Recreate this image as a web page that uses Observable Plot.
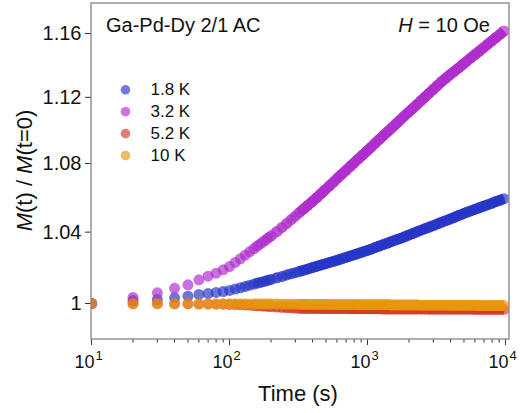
<!DOCTYPE html>
<html><head><meta charset="utf-8">
<script src="https://cdn.jsdelivr.net/npm/d3@7"></script>
<script src="https://cdn.jsdelivr.net/npm/@observablehq/plot@0.6"></script>
<style>
body{margin:0;background:#fff}
svg{font-family:"Liberation Sans",Arial,sans-serif}
</style>
</head><body><div id="chart"></div>
<script>
// Time (s)
const times = [10,20,30,40,50,60,70,80,90,100,110,120,130,140,150,160,170,180,190,200,220,240,260,280,300,320,345,370,400,430,460,490,530,570,610,650,700,750,800,860,920,990,1060,1140,1220,1310,1400,1500,1610,1730,1850,1980,2120,2270,2440,2610,2800,3000,3220,3450,3700,3960,4250,4550,4880,5230,5600,6000,6430,6890,7390,7920,8490,9100,9750];

// M(t)/M(t=0) for each temperature
const m18 = [1.0000,1.0016,1.0022,1.0031,1.0040,1.0050,1.0055,1.0061,1.0066,1.0072,
1.0080,1.0087,1.0094,1.0101,1.0107,1.0113,1.0118,1.0123,1.0128,1.0133,
1.0142,1.0150,1.0158,1.0165,1.0171,
1.0177,1.0185,1.0192,1.0200,1.0207,1.0214,1.0220,1.0228,1.0235,1.0242,1.0249,1.0257,1.0265,1.0271,1.0280,1.0287,1.0295,
1.0303,1.0313,1.0321,1.0330,1.0338,1.0347,1.0356,1.0364,1.0373,1.0383,
1.0392,1.0401,1.0411,1.0420,1.0429,1.0438,1.0448,1.0457,1.0466,1.0475,
1.0485,1.0495,1.0504,1.0514,1.0522,1.0531,1.0540,1.0549,1.0557,1.0566,
1.0576,1.0584,1.0593];

const m32 = [1.0000,1.0033,1.0059,1.0084,1.0103,1.0131,1.0151,1.0168,1.0187,1.0205,
1.0228,1.0249,1.0269,1.0288,1.0305,1.0322,1.0337,1.0351,1.0366,1.0378,
1.0403,1.0427,1.0450,1.0472,1.0492,
1.0512,1.0534,1.0555,1.0578,1.0600,1.0622,1.0643,1.0668,1.0692,1.0715,1.0736,1.0760,1.0783,1.0804,1.0828,1.0850,1.0874,
1.0897,1.0922,1.0945,1.0969,1.0991,1.1014,1.1038,1.1062,1.1086,1.1108,
1.1131,1.1154,1.1179,1.1202,1.1226,1.1250,1.1274,1.1298,1.1319,1.1340,
1.1361,1.1381,1.1403,1.1424,1.1445,1.1466,1.1487,1.1508,1.1530,1.1551,
1.1573,1.1594,1.1616];

const m52 = [1.0000,0.9999,0.9999,0.9998,0.9998,0.9997,0.9997,0.9996,0.9996,0.9995,
0.9994,0.9993,0.9992,0.9991,0.9989,0.9988,0.9987,0.9986,0.9985,0.9983,
0.9981,0.9979,0.9977,0.9976,0.9975,
0.9974,0.9974,0.9973,0.9973,0.9973,0.9973,0.9972,0.9972,0.9972,0.9972,0.9972,0.9972,0.9971,0.9971,0.9971,0.9971,0.9971,
0.9971,0.9971,0.9971,0.9970,0.9970,0.9970,0.9970,0.9970,0.9970,0.9970,
0.9970,0.9970,0.9970,0.9970,0.9969,0.9969,0.9969,0.9969,0.9969,0.9969,
0.9969,0.9969,0.9969,0.9969,0.9969,0.9968,0.9968,0.9968,0.9968,0.9968,
0.9968,0.9968,0.9968];

const m10 = [1.0000,0.9999,0.9999,0.9999,0.9999,0.9998,0.9998,0.9998,0.9998,0.9998,
0.9998,0.9998,0.9998,0.9997,0.9997,0.9997,0.9997,0.9997,0.9997,0.9997,
0.9997,0.9996,0.9996,0.9996,0.9996,
0.9996,0.9996,0.9995,0.9995,0.9995,0.9995,0.9995,0.9995,0.9994,0.9994,0.9994,0.9994,0.9994,0.9994,0.9993,0.9993,0.9993,
0.9993,0.9993,0.9993,0.9993,0.9993,0.9992,0.9992,0.9992,0.9992,0.9992,
0.9992,0.9992,0.9991,0.9991,0.9991,0.9991,0.9991,0.9991,0.9991,0.9990,
0.9990,0.9990,0.9990,0.9990,0.9990,0.9990,0.9989,0.9989,0.9989,0.9989,
0.9989,0.9989,0.9989];

const seriesLabels = ["1.8 K", "3.2 K", "5.2 K", "10 K"];
const seriesColors = ["#2635c7", "#ae2ccd", "#d5392a", "#e8960f"];

const xMajorTicks = [10, 100, 1000, 10000];
const xTickExponents = ["1", "2", "3", "4"];
const xMinorTicks = [20,30,40,50,60,70,80,90,200,300,400,500,600,700,800,900,2000,3000,4000,5000,6000,7000,8000,9000];
const yTicks = [1, 1.04, 1.08, 1.12, 1.16];

const sampleName = "Ga-Pd-Dy 2/1 AC";
const fieldLabel = " = 10 Oe";

// build table
const allSeries = [m18, m32, m52, m10];
const rows = [];
allSeries.forEach((vals, i) => vals.forEach((v, j) => rows.push({t: times[j], v, s: seriesLabels[i]})));

const fontFam = '"Liberation Sans", Arial, sans-serif';

// data marks: per series (so later series sit on top), a band that gets more
// solid where the measurements are densely packed, then the semi-transparent markers
const dataMarks = [];
seriesLabels.forEach((s, i) => {
  const sub = rows.filter(d => d.s === s);
  dataMarks.push(Plot.line(sub.filter(d => d.t >= 150), {x: "t", y: "v", stroke: "s", strokeWidth: 10.4, strokeOpacity: 0.45, strokeLinecap: "butt", strokeLinejoin: "round", clip: true}));
  dataMarks.push(Plot.line(sub.filter(d => d.t >= 320), {x: "t", y: "v", stroke: "s", strokeWidth: 10.4, strokeOpacity: 0.85, strokeLinecap: "butt", strokeLinejoin: "round", clip: true}));
  dataMarks.push(Plot.dot(sub, {x: "t", y: "v", fill: "s", r: 5.5, fillOpacity: 0.68, clip: true}));
});

const legendMarks = [];
seriesLabels.forEach((s, i) => {
  legendMarks.push(Plot.dot([s], {frameAnchor: "top-left", dx: 34, dy: 86.3 + 21.9 * i, r: 4.8, fill: d => d, fillOpacity: 0.65}));
  legendMarks.push(Plot.text([s], {frameAnchor: "top-left", dx: 59, dy: 86.3 + 21.9 * i, text: d => d, textAnchor: "start", lineAnchor: "middle", fontSize: 17, fill: "#111"}));
});

const plot = Plot.plot({
  width: 528,
  height: 413,
  marginLeft: 91,
  marginRight: 19,
  marginTop: 3,
  marginBottom: 74,
  style: {fontFamily: fontFam, fontSize: "17px", background: "#fff", overflow: "visible"},
  x: {type: "log", domain: [10, 10690], label: null},
  y: {type: "log", domain: [0.9804, 1.1793], label: null},
  color: {domain: seriesLabels, range: seriesColors},
  marks: [
    ...dataMarks,
    Plot.axisY({ticks: yTicks, tickSize: 6, tickPadding: 4, tickFormat: d => d === 1 ? "1" : d.toFixed(2), fontSize: 20, label: null, stroke: "#333", fill: "#111"}),
    Plot.axisX({ticks: xMajorTicks, tickSize: 6, tickFormat: () => "", label: null, stroke: "#333"}),
    Plot.axisX({ticks: xMinorTicks, tickSize: 3.5, tickFormat: () => "", label: null, stroke: "#333"}),
    Plot.text(xMajorTicks, {x: d => d, frameAnchor: "bottom", dy: 23, dx: 3, text: () => "10", textAnchor: "end", lineAnchor: "middle", fontSize: 18, fill: "#111"}),
    Plot.text(xMajorTicks, {x: d => d, frameAnchor: "bottom", dy: 16.5, dx: 4, text: (d, i) => xTickExponents[i], textAnchor: "start", lineAnchor: "middle", fontSize: 13, fill: "#111"}),
    ...legendMarks
  ]
});

document.getElementById("chart").appendChild(plot);

const svg = d3.select(plot);
// frame box from the plot's own scales
const xr = plot.scale("x").range, yr = plot.scale("y").range;
const x0 = Math.min(...xr), x1 = Math.max(...xr), y0 = Math.min(...yr), y1 = Math.max(...yr);
svg.append("rect").attr("x", x0).attr("y", y0).attr("width", x1 - x0).attr("height", y1 - y0)
  .attr("fill", "none").attr("stroke", "#8c8c8c").attr("stroke-width", 1.4);
// sample annotation
svg.append("text").attr("x", 106).attr("y", 31.5).attr("font-size", 20).attr("fill", "#111")
  .attr("font-family", fontFam).attr("text-anchor", "start").text(sampleName);
// field annotation
const ft = svg.append("text").attr("x", 490).attr("y", 31.5).attr("font-size", 20).attr("fill", "#111")
  .attr("font-family", fontFam).attr("text-anchor", "end");
ft.append("tspan").attr("font-style", "italic").text("H");
ft.append("tspan").text(fieldLabel);
// x title
svg.append("text").attr("x", 298).attr("y", 401).attr("font-size", 22).attr("fill", "#111")
  .attr("font-family", fontFam).attr("text-anchor", "middle").text("Time (s)");
// y title
const yt = svg.append("text").attr("transform", "translate(32,170.5) rotate(-90)").attr("font-size", 22).attr("fill", "#111")
  .attr("font-family", fontFam).attr("text-anchor", "middle");
yt.append("tspan").attr("font-style", "italic").text("M");
yt.append("tspan").text("(t) / ");
yt.append("tspan").attr("font-style", "italic").text("M");
yt.append("tspan").text("(t=0)");
</script>
</body></html>
